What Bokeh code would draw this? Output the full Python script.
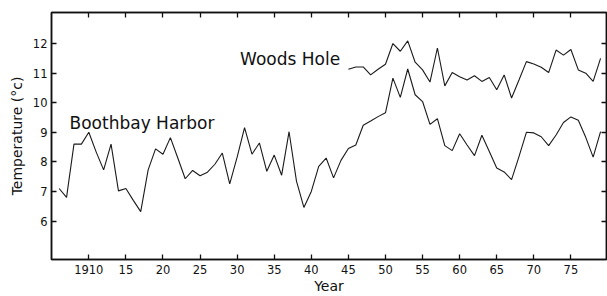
from bokeh.plotting import figure
from bokeh.models import FixedTicker, LinearAxis, Label, Range1d
from bokeh.embed import file_html
from bokeh.resources import INLINE

# ---- data ----
boothbay_years = list(range(1906, 1980))
boothbay_temp = [
    7.10, 6.80, 8.60, 8.60, 9.00, 8.33, 7.73, 8.60, 7.02, 7.10,
    6.70, 6.32, 7.73, 8.44, 8.26, 8.82, 8.13, 7.43, 7.71, 7.53,
    7.65, 7.92, 8.30, 7.26, 8.16, 9.16, 8.26, 8.64, 7.68, 8.23,
    7.55, 9.02, 7.35, 6.46, 7.00, 7.85, 8.13, 7.46, 8.05, 8.45,
    8.57, 9.24, 9.38, 9.53, 9.66, 10.83, 10.18, 11.14, 10.27, 10.04,
    9.27, 9.46, 8.55, 8.38, 8.95, 8.57, 8.21, 8.90, 8.35, 7.79,
    7.66, 7.40, 8.18, 9.00, 8.98, 8.85, 8.55, 8.91, 9.33, 9.52,
    9.41, 8.83, 8.16, 9.02,
]
woods_years = list(range(1945, 1980))
woods_temp = [
    11.13, 11.21, 11.21, 10.94, 11.13, 11.30, 12.00, 11.74, 12.09, 11.37,
    11.11, 10.70, 11.85, 10.57, 11.02, 10.88, 10.77, 10.91, 10.72, 10.85,
    10.44, 10.94, 10.16, 10.77, 11.39, 11.31, 11.20, 11.02, 11.78, 11.61,
    11.80, 11.11, 11.00, 10.72, 11.50,
]
x_ticks = [1910, 1915, 1920, 1925, 1930, 1935, 1940, 1945, 1950, 1955,
           1960, 1965, 1970, 1975]
x_tick_labels = ["1910", "15", "20", "25", "30", "35", "40", "45", "50",
                 "55", "60", "65", "70", "75"]
y_ticks = [6, 7, 8, 9, 10, 11, 12]
series_labels = ["Boothbay Harbor", "Woods Hole"]
x_title = "Year"
y_title = "Temperature (°c)"

FONT = "DejaVu Sans"
INK = "#111111"

p = figure(width=607, height=296, output_backend="svg", toolbar_location=None,
           x_range=Range1d(1904.97, 1979.8), y_range=Range1d(4.70, 13.05),
           min_border_left=51, min_border_right=1, min_border_top=12,
           min_border_bottom=34, x_axis_location=None, y_axis_location=None)
p.grid.visible = False
p.background_fill_color = "white"
p.border_fill_color = "white"
p.outline_line_color = INK
p.outline_line_width = 1.5


def style_axis(ax, ticks, labels):
    ax.ticker = FixedTicker(ticks=ticks)
    ax.axis_line_color = INK
    ax.axis_line_width = 1.5
    ax.major_tick_line_color = INK
    ax.major_tick_line_width = 1.3
    ax.major_tick_in = 5
    ax.major_tick_out = 0
    ax.minor_tick_line_color = None
    ax.major_label_text_font = FONT
    ax.major_label_text_font_size = "11.5px"
    ax.major_label_text_color = INK
    ax.major_label_overrides = {t: l for t, l in zip(ticks, labels)}
    ax.axis_label_text_font = FONT
    ax.axis_label_text_font_style = "normal"
    ax.axis_label_text_font_size = "14px"
    ax.axis_label_text_color = INK


xb = LinearAxis(axis_label=x_title)
style_axis(xb, x_ticks, x_tick_labels)
xb.major_label_standoff = 5
xb.axis_label_standoff = 1
p.add_layout(xb, "below")

xt = LinearAxis()
style_axis(xt, x_ticks, [""] * len(x_ticks))
xt.major_label_standoff = 0
p.add_layout(xt, "above")

yl = LinearAxis(axis_label=y_title)
style_axis(yl, y_ticks, [str(t) for t in y_ticks])
yl.major_label_standoff = 4
yl.axis_label_standoff = 5
p.add_layout(yl, "left")

yr = LinearAxis()
style_axis(yr, y_ticks, [""] * len(y_ticks))
yr.major_label_standoff = 0
p.add_layout(yr, "right")

p.line(boothbay_years, boothbay_temp, line_color="#1a1a1a", line_width=1.1)
p.line(woods_years, woods_temp, line_color="#1a1a1a", line_width=1.1)

p.add_layout(Label(x=1907.4, y=9.31, text=series_labels[0], text_font=FONT,
                   text_font_size="17px", text_color=INK,
                   text_baseline="alphabetic", text_align="left"))
p.add_layout(Label(x=1930.4, y=11.47, text=series_labels[1], text_font=FONT,
                   text_font_size="17px", text_color=INK,
                   text_baseline="alphabetic", text_align="left"))

open("out.html", "w").write(file_html(p, INLINE))
